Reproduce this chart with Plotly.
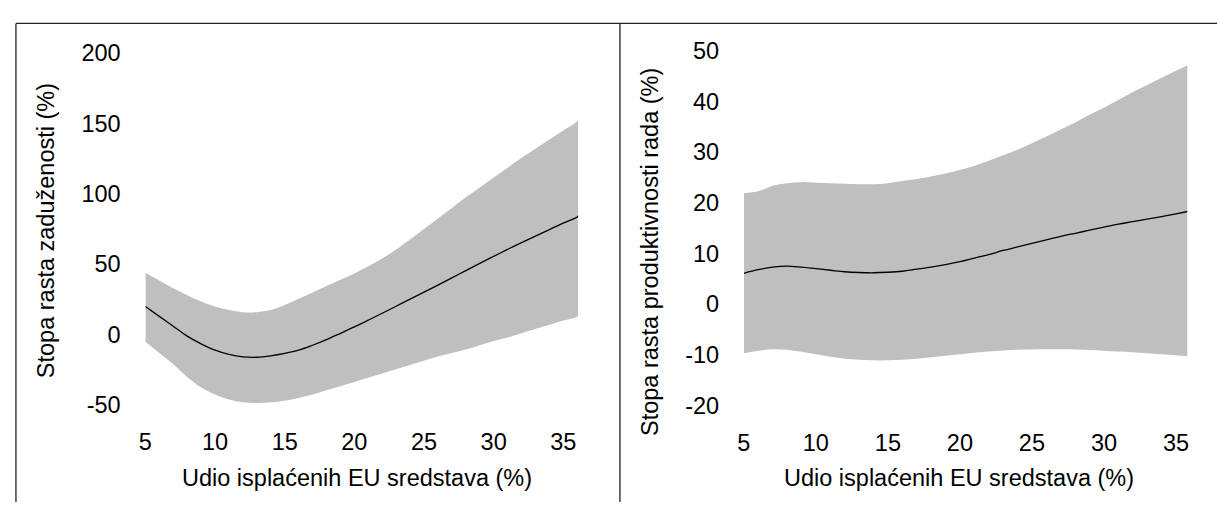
import plotly.graph_objects as go

# ---- Left panel: debt growth ----
x_left = [5, 6, 7, 8, 9, 10, 11, 12, 13, 14, 15, 16, 17, 18, 19, 20, 21, 22, 23, 24, 25,
          26, 27, 28, 29, 30, 31, 32, 33, 34, 35, 36, 36.07]
mean_left = [20, 13, 6, -1, -6.5, -11, -14, -15.7, -16, -15, -13.3, -11, -7.5, -3.5, 1, 5.5,
             10.3, 15.2, 20.2, 25.2, 30.2, 35.2, 40.3, 45.5, 50.6, 55.6, 60.6, 65.4, 70, 74.6,
             79.2, 83.5, 84.3]
upper_left = [44, 38.5, 33, 28, 23.5, 20, 17.5, 16, 16, 17.5, 21, 25.5, 30, 34.5, 39, 43.5,
              48.5, 54, 60.5, 67.5, 75, 82.5, 90, 97.5, 104.5, 111.5, 118.5, 125.5, 132, 138.5,
              145, 151.5, 153.5]
lower_left = [-5, -13, -21, -30, -37.5, -42.5, -46, -48, -48.5, -48, -46.8, -45, -42.5, -39.5,
              -36.5, -33.5, -30.5, -27.5, -24.5, -21.5, -18.5, -15.5, -13, -10.5, -7.5, -4.5,
              -2, 1, 4, 7, 10, 13, 15]

# ---- Right panel: labour productivity growth ----
x_right = [5, 6, 7, 8, 9, 10, 11, 12, 13, 14, 15, 16, 17, 18, 19, 20, 21, 22, 23, 24, 25,
           26, 27, 28, 29, 30, 31, 32, 33, 34, 35, 35.8]
mean_right = [6.1, 6.8, 7.3, 7.5, 7.3, 7.0, 6.7, 6.4, 6.25, 6.2, 6.3, 6.5, 6.9, 7.3, 7.8, 8.4,
              9.1, 9.8, 10.6, 11.3, 12.0, 12.7, 13.4, 14.0, 14.6, 15.2, 15.8, 16.3, 16.8, 17.3,
              17.85, 18.3]
upper_right = [21.9, 22.3, 23.4, 23.9, 24.1, 24.0, 23.9, 23.8, 23.7, 23.7, 23.9, 24.3, 24.7,
               25.2, 25.8, 26.5, 27.3, 28.3, 29.4, 30.5, 31.8, 33.1, 34.5, 35.9, 37.4, 38.8,
               40.3, 41.9, 43.3, 44.7, 46.1, 47.2]
lower_right = [-9.7, -9.2, -8.9, -9.0, -9.4, -9.9, -10.4, -10.8, -11.0, -11.1, -11.1, -11.0,
               -10.8, -10.5, -10.2, -9.9, -9.6, -9.35, -9.15, -9.0, -8.95, -8.9, -8.9, -8.95,
               -9.05, -9.2, -9.35, -9.5, -9.7, -9.9, -10.1, -10.3]

y_ticks_left = [-50, 0, 50, 100, 150, 200]
y_labels_left = ["-50", "0", "50", "100", "150", "200"]
y_ticks_right = [-20, -10, 0, 10, 20, 30, 40, 50]
y_labels_right = ["-20", "-10", "0", "10", "20", "30", "40", "50"]
x_ticks = [5, 10, 15, 20, 25, 30, 35]
x_labels = ["5", "10", "15", "20", "25", "30", "35"]

x_title = "Udio isplaćenih EU sredstava (%)"
y_title_left = "Stopa rasta zaduženosti (%)"
y_title_right = "Stopa rasta produktivnosti rada (%)"

W, H = 1218, 515
BAND = "#bfbfbf"
FONT = "Liberation Sans, Arial, sans-serif"
FS = 23.5


def px(x):
    return x / W


def py(y):
    return 1 - y / H


fig = go.Figure()

for xs, up, lo, mn, xa, ya in [
    (x_left, upper_left, lower_left, mean_left, "x", "y"),
    (x_right, upper_right, lower_right, mean_right, "x2", "y2"),
]:
    fig.add_trace(go.Scatter(x=xs, y=lo, mode="lines", line=dict(width=0, color=BAND),
                             line_shape="spline", xaxis=xa, yaxis=ya, showlegend=False,
                             hoverinfo="skip"))
    fig.add_trace(go.Scatter(x=xs, y=up, mode="lines", line=dict(width=0, color=BAND),
                             line_shape="spline", fill="tonexty", fillcolor=BAND,
                             xaxis=xa, yaxis=ya, showlegend=False, hoverinfo="skip"))
    fig.add_trace(go.Scatter(x=xs, y=mn, mode="lines", line=dict(width=1.3, color="black"),
                             line_shape="spline", xaxis=xa, yaxis=ya, showlegend=False))

axis_common = dict(showgrid=False, zeroline=False, showline=False, ticks="outside",
                   tickcolor="rgba(0,0,0,0)", tickfont=dict(family=FONT, size=FS, color="black"),
                   fixedrange=True, tickmode="array")

fig.update_layout(
    width=W, height=H,
    margin=dict(l=0, r=0, t=0, b=0),
    paper_bgcolor="white", plot_bgcolor="white",
    font=dict(family=FONT, size=FS, color="black"),
    xaxis=dict(domain=[px(139.3), px(575)], range=[5, 36.07], tickvals=x_ticks,
               ticktext=x_labels, ticklen=16, anchor="y", **axis_common),
    yaxis=dict(domain=[py(413), py(42)], range=[-50, 200], tickvals=y_ticks_left,
               ticktext=y_labels_left, ticklen=19, anchor="x", **axis_common),
    xaxis2=dict(domain=[px(741.7), px(1188.3)], range=[5, 35.8], tickvals=x_ticks,
                ticktext=x_labels, ticklen=16, anchor="y2", **axis_common),
    yaxis2=dict(domain=[py(413.3), py(40)], range=[-20, 50], tickvals=y_ticks_right,
                ticktext=y_labels_right, ticklen=19, anchor="x2", **axis_common),
    showlegend=False,
)

annos = [
    dict(x=px(352), y=py(490), text=x_title),
    dict(x=px(958), y=py(490), text=x_title),
    dict(x=px(40), y=py(229), text=y_title_left, textangle=-90),
    dict(x=px(648), y=py(252), text=y_title_right, textangle=-90),
]
for a in annos:
    fig.add_annotation(xref="paper", yref="paper", showarrow=False, xanchor="center",
                       yanchor="middle", font=dict(family=FONT, size=FS, color="black"), **a)

frame = dict(color="#222222", width=1.3)
fig.add_shape(type="line", xref="paper", yref="paper", x0=px(9), x1=1, y0=py(11), y1=py(11), line=frame)
fig.add_shape(type="line", xref="paper", yref="paper", x0=px(9), x1=px(9), y0=py(11), y1=0, line=frame)
fig.add_shape(type="line", xref="paper", yref="paper", x0=px(617), x1=px(617), y0=py(11), y1=0, line=frame)

fig.write_html("out.html", config={"displayModeBar": False},
               post_script="document.body.style.margin='0';document.body.style.overflow='hidden';")
